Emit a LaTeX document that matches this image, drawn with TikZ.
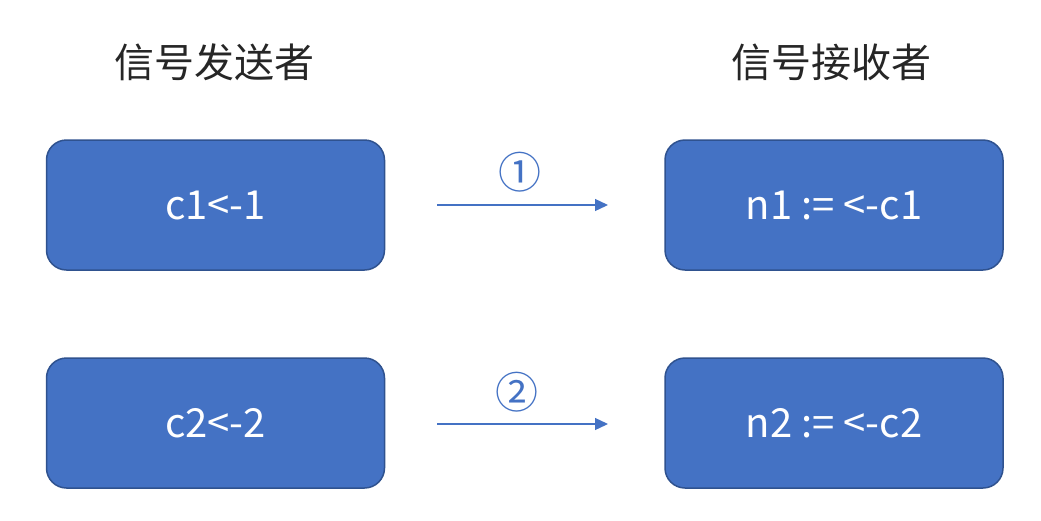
\documentclass[tikz,border=0pt]{standalone}
\usepackage{fontspec}
\setmainfont{Noto Sans CJK SC}
\newfontfamily\cjk{Noto Sans CJK SC}
\usetikzlibrary{arrows.meta}
\definecolor{boxfill}{HTML}{4472C4}
\definecolor{boxline}{HTML}{2F528F}
\definecolor{arrowc}{HTML}{4472C4}
\begin{document}
\begin{tikzpicture}[x=1pt,y=-1pt,
  msgbox/.style={draw=boxline, line width=1.5pt, fill=boxfill, rounded corners=20pt,
    minimum width=338pt, minimum height=130pt, inner sep=0pt, text=white,
    font=\fontsize{40}{46}\selectfont},
  title/.style={font=\fontsize{40}{46}\selectfont, text=black!85},
  flow/.style={draw=arrowc, line width=1.3pt, -{Triangle[length=13pt,width=12pt]}},
  num/.style={text=arrowc, font=\fontsize{43}{48}\selectfont\cjk, inner sep=0pt}]
\useasboundingbox (0,0) rectangle (1041,520);
\node[title] (t1) at (214,62) {信号发送者};
\node[title] (t2) at (831,62) {信号接收者};
\node[msgbox] (s1) at (215.5,205) {c1<-1};
\node[msgbox] (r1) at (834,205) {n1 := <-c1};
\node[msgbox] (s2) at (215.5,423) {c2<-2};
\node[msgbox] (r2) at (834,423) {n2 := <-c2};
\coordinate (a1s) at (437,205);
\coordinate (a1e) at (608,205);
\coordinate (a2s) at (437,424);
\coordinate (a2e) at (608,424);
\draw[flow] (a1s) -- (a1e);
\draw[flow] (a2s) -- (a2e);
\node[num] (n1) at (520,172) {①};
\node[num] (n2) at (517,392) {②};
\end{tikzpicture}
\end{document}
